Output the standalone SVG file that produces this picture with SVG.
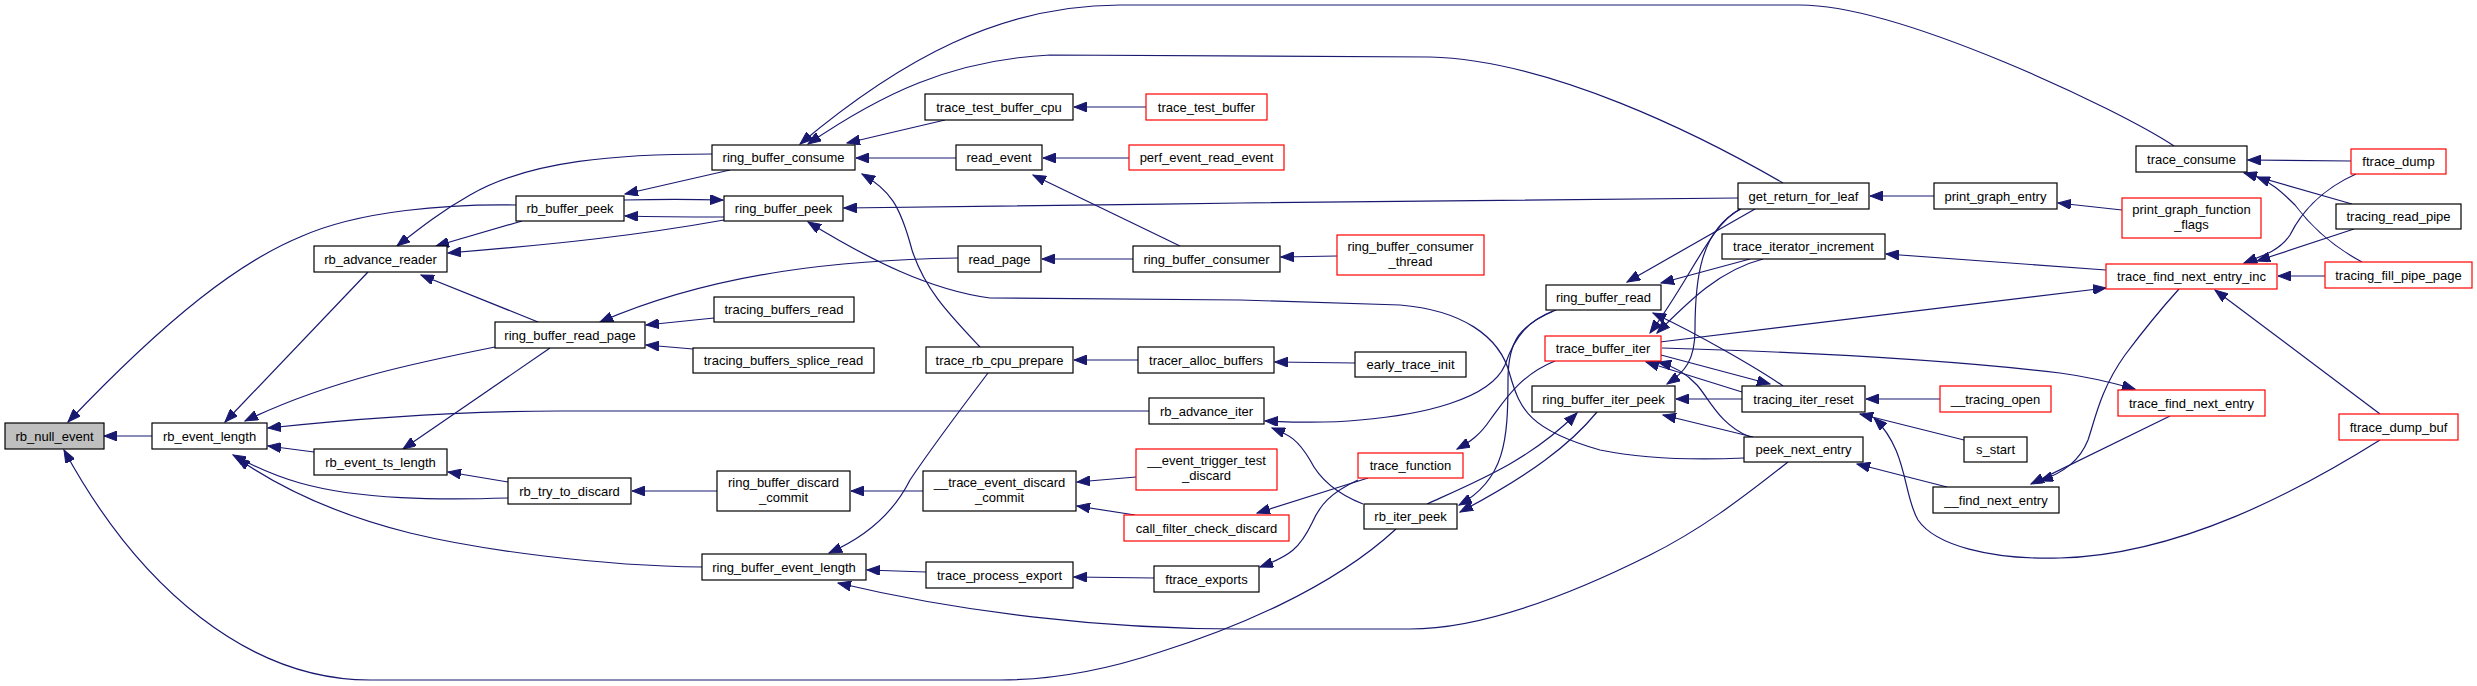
<svg xmlns="http://www.w3.org/2000/svg" width="2477" height="686" viewBox="0 0 2477 686">
<style>
.n rect{fill:#fff;stroke:#000;stroke-width:1.2}
.r rect{fill:#fff;stroke:#f00;stroke-width:1.2}
.g rect{fill:#bfbfbf;stroke:#000;stroke-width:1.2}
text{font-family:"Liberation Sans",Arial,sans-serif;font-size:13px;text-anchor:middle;fill:#000}
#edges path{fill:none;stroke:#191970;stroke-width:1.2;marker-end:url(#a)}
</style>
<defs>
<marker id="a" markerWidth="14" markerHeight="10" refX="13" refY="5" orient="auto" markerUnits="userSpaceOnUse"><path d="M0,0 L13,5 L0,10 z" fill="#191970" stroke="#191970" stroke-width="1"/></marker>
</defs>
<rect width="2477" height="686" fill="#fff"/>
<g id="edges">
<path d="M152,436 L104,436"/>
<path d="M516,205 C450,204 360,210 300,237 C240,262 170,315 68,422"/>
<path d="M1396,529 C1330,590 1230,630 1160,652 C1100,672 1050,680 1000,680 L370,680 C250,680 140,590 64,450"/>
<path d="M368,272 L225,422"/>
<path d="M495,347 C420,362 330,380 245,421"/>
<path d="M1149,411 L560,411 C480,411 380,416 268,428"/>
<path d="M314,452 L268,446"/>
<path d="M508,498 C440,500 360,500 300,483 C275,476 255,467 233,455"/>
<path d="M702,567 C600,566 480,550 410,533 C350,518 290,495 237,458"/>
<path d="M712,154 C620,154 530,160 470,195 C440,212 420,228 397,246"/>
<path d="M522,221 L436,246"/>
<path d="M724,220 C640,235 560,244 448,253"/>
<path d="M538,322 L421,275"/>
<path d="M730,170 L625,194"/>
<path d="M724,217 C700,217 660,217 625,216"/>
<path d="M624,200 C660,199 690,199 723,200"/>
<path d="M2174,146 C2120,110 1900,5 1800,5 L1120,5 C1000,5 900,60 800,144"/>
<path d="M1783,183 C1700,135 1550,60 1430,57 L1050,55 C950,60 880,95 808,144"/>
<path d="M945,120 L847,143"/>
<path d="M956,158 L856,158"/>
<path d="M980,347 C950,315 925,290 912,250 C900,205 890,190 862,174"/>
<path d="M1738,198 L1240,203 C1100,205 950,207 844,208"/>
<path d="M1744,458 C1700,460 1650,460 1600,450 C1530,430 1520,410 1510,375 C1500,335 1460,310 1400,305 L1240,300 L990,298 C930,290 870,260 808,222"/>
<path d="M958,258 C850,260 720,270 600,322"/>
<path d="M714,318 L646,325"/>
<path d="M693,349 L646,345"/>
<path d="M550,348 L403,449"/>
<path d="M508,482 L448,472"/>
<path d="M717,491 L632,491"/>
<path d="M923,491 L851,491"/>
<path d="M1136,477 L1077,482"/>
<path d="M1135,515 L1077,506"/>
<path d="M926,572 L867,570"/>
<path d="M1154,578 L1074,577"/>
<path d="M988,373 C960,410 930,450 910,480 C895,510 870,535 829,553"/>
<path d="M1788,462 C1740,500 1700,530 1650,555 C1570,595 1480,629 1410,629 L1240,629 C1100,629 960,612 838,583"/>
<path d="M1180,246 L1033,175"/>
<path d="M1133,259 L1042,259"/>
<path d="M1129,158 L1043,158"/>
<path d="M1146,107 L1074,107"/>
<path d="M1337,256 L1281,257"/>
<path d="M1138,360 L1074,360"/>
<path d="M1355,363 L1275,362"/>
<path d="M1553,311 C1530,320 1515,335 1505,365 C1490,400 1420,415 1360,420 C1320,424 1290,422 1265,421"/>
<path d="M1363,504 C1340,495 1320,480 1310,460 C1298,440 1290,435 1272,428"/>
<path d="M1556,310 C1520,325 1508,340 1508,380 C1508,440 1505,480 1459,505"/>
<path d="M1597,412 C1570,445 1530,475 1460,512"/>
<path d="M1427,504 C1480,480 1530,460 1577,413"/>
<path d="M1555,361 C1520,375 1505,400 1490,420 C1480,435 1470,442 1457,449"/>
<path d="M1368,478 L1257,513"/>
<path d="M1358,480 C1330,493 1320,505 1312,523 C1300,548 1290,556 1260,567"/>
<path d="M1755,209 L1627,282"/>
<path d="M1750,259 L1661,283"/>
<path d="M1783,386 C1760,370 1700,335 1653,313"/>
<path d="M1740,209 C1710,225 1690,280 1650,333"/>
<path d="M1763,259 C1720,270 1690,300 1657,333"/>
<path d="M1741,209 C1700,230 1695,280 1695,330 C1695,360 1685,372 1667,384"/>
<path d="M1742,399 L1676,399"/>
<path d="M1753,437 L1663,415"/>
<path d="M1750,437 C1720,425 1710,400 1697,385 C1685,372 1670,365 1658,362"/>
<path d="M1661,355 L1770,384"/>
<path d="M1742,392 L1646,362"/>
<path d="M1940,399 L1866,399"/>
<path d="M1964,440 L1860,414"/>
<path d="M2380,440 C2300,490 2180,555 2060,558 C1990,560 1935,545 1918,520 C1903,495 1908,450 1874,418"/>
<path d="M1947,487 L1857,464"/>
<path d="M2179,289 C2160,310 2140,335 2125,355 C2100,390 2095,420 2088,440 C2080,460 2065,472 2040,481"/>
<path d="M2170,416 L2031,484"/>
<path d="M1662,348 C1800,352 1950,360 2060,373 C2090,377 2110,382 2135,389"/>
<path d="M1660,342 L2106,288"/>
<path d="M2106,270 L1886,254"/>
<path d="M1934,196 L1870,196"/>
<path d="M2122,210 L2058,203"/>
<path d="M2351,161 L2248,160"/>
<path d="M2352,204 L2244,173"/>
<path d="M2362,262 C2330,245 2310,225 2295,205 C2280,190 2270,182 2257,177"/>
<path d="M2356,174 C2320,190 2300,215 2290,235 C2280,250 2265,255 2244,263"/>
<path d="M2354,229 L2257,261"/>
<path d="M2325,276 L2278,276"/>
<path d="M2380,414 L2215,290"/>
</g>
<g id="n1" class="g"><rect x="5" y="423" width="99" height="26"/><text x="54.5" y="440.5">rb_null_event</text></g>
<g id="n2" class="n"><rect x="152" y="423" width="115" height="26"/><text x="209.5" y="440.5">rb_event_length</text></g>
<g id="n3" class="n"><rect x="314" y="246" width="133" height="26"/><text x="380.5" y="263.5">rb_advance_reader</text></g>
<g id="n4" class="n"><rect x="314" y="449" width="133" height="26"/><text x="380.5" y="466.5">rb_event_ts_length</text></g>
<g id="n5" class="n"><rect x="712" y="145" width="143" height="25"/><text x="783.5" y="162">ring_buffer_consume</text></g>
<g id="n6" class="n"><rect x="516" y="196" width="108" height="25"/><text x="570" y="213">rb_buffer_peek</text></g>
<g id="n7" class="n"><rect x="724" y="196" width="119" height="25"/><text x="783.5" y="213">ring_buffer_peek</text></g>
<g id="n8" class="n"><rect x="495" y="322" width="150" height="26"/><text x="570" y="339.5">ring_buffer_read_page</text></g>
<g id="n9" class="n"><rect x="714" y="297" width="140" height="25"/><text x="784" y="314">tracing_buffers_read</text></g>
<g id="n10" class="n"><rect x="693" y="348" width="181" height="25"/><text x="783.5" y="365">tracing_buffers_splice_read</text></g>
<g id="n11" class="n"><rect x="508" y="478" width="123" height="26"/><text x="569.5" y="495.5">rb_try_to_discard</text></g>
<g id="n12" class="n"><rect x="717" y="471" width="133" height="40"/><text x="783.5" y="486.5">ring_buffer_discard</text><text x="783.5" y="501.5">_commit</text></g>
<g id="n13" class="n"><rect x="702" y="554" width="164" height="26"/><text x="784" y="571.5">ring_buffer_event_length</text></g>
<g id="n14" class="n"><rect x="925" y="94" width="148" height="26"/><text x="999" y="111.5">trace_test_buffer_cpu</text></g>
<g id="n15" class="r"><rect x="1146" y="94" width="121" height="26"/><text x="1206.5" y="111.5">trace_test_buffer</text></g>
<g id="n16" class="n"><rect x="956" y="145" width="86" height="25"/><text x="999" y="162">read_event</text></g>
<g id="n17" class="r"><rect x="1129" y="145" width="155" height="25"/><text x="1206.5" y="162">perf_event_read_event</text></g>
<g id="n18" class="n"><rect x="958" y="246" width="83" height="26"/><text x="999.5" y="263.5">read_page</text></g>
<g id="n19" class="n"><rect x="1133" y="246" width="147" height="26"/><text x="1206.5" y="263.5">ring_buffer_consumer</text></g>
<g id="n20" class="r"><rect x="1337" y="235" width="147" height="40"/><text x="1410.5" y="250.5">ring_buffer_consumer</text><text x="1410.5" y="265.5">_thread</text></g>
<g id="n21" class="n"><rect x="926" y="347" width="147" height="26"/><text x="999.5" y="364.5">trace_rb_cpu_prepare</text></g>
<g id="n22" class="n"><rect x="1138" y="347" width="136" height="26"/><text x="1206" y="364.5">tracer_alloc_buffers</text></g>
<g id="n23" class="n"><rect x="1355" y="352" width="111" height="25"/><text x="1410.5" y="369">early_trace_init</text></g>
<g id="n24" class="n"><rect x="1149" y="398" width="115" height="26"/><text x="1206.5" y="415.5">rb_advance_iter</text></g>
<g id="n25" class="n"><rect x="923" y="471" width="153" height="40"/><text x="999.5" y="486.5">__trace_event_discard</text><text x="999.5" y="501.5">_commit</text></g>
<g id="n26" class="r"><rect x="1136" y="449" width="141" height="41"/><text x="1206.5" y="464.5">__event_trigger_test</text><text x="1206.5" y="479.5">_discard</text></g>
<g id="n27" class="r"><rect x="1124" y="515" width="165" height="26"/><text x="1206.5" y="532.5">call_filter_check_discard</text></g>
<g id="n28" class="n"><rect x="926" y="562" width="147" height="26"/><text x="999.5" y="579.5">trace_process_export</text></g>
<g id="n29" class="n"><rect x="1154" y="566" width="105" height="26"/><text x="1206.5" y="583.5">ftrace_exports</text></g>
<g id="n30" class="r"><rect x="1358" y="453" width="105" height="25"/><text x="1410.5" y="470">trace_function</text></g>
<g id="n31" class="n"><rect x="1364" y="504" width="93" height="25"/><text x="1410.5" y="521">rb_iter_peek</text></g>
<g id="n32" class="n"><rect x="1546" y="285" width="115" height="25"/><text x="1603.5" y="302">ring_buffer_read</text></g>
<g id="n33" class="r"><rect x="1545" y="336" width="116" height="25"/><text x="1603" y="353">trace_buffer_iter</text></g>
<g id="n34" class="n"><rect x="1532" y="386" width="143" height="26"/><text x="1603.5" y="403.5">ring_buffer_iter_peek</text></g>
<g id="n35" class="n"><rect x="1738" y="183" width="131" height="26"/><text x="1803.5" y="200.5">get_return_for_leaf</text></g>
<g id="n36" class="n"><rect x="1934" y="183" width="123" height="26"/><text x="1995.5" y="200.5">print_graph_entry</text></g>
<g id="n37" class="n"><rect x="1722" y="234" width="163" height="25"/><text x="1803.5" y="251">trace_iterator_increment</text></g>
<g id="n38" class="n"><rect x="1742" y="386" width="123" height="26"/><text x="1803.5" y="403.5">tracing_iter_reset</text></g>
<g id="n39" class="r"><rect x="1940" y="386" width="111" height="26"/><text x="1995.5" y="403.5">__tracing_open</text></g>
<g id="n40" class="n"><rect x="1744" y="437" width="119" height="25"/><text x="1803.5" y="454">peek_next_entry</text></g>
<g id="n41" class="n"><rect x="1964" y="437" width="63" height="25"/><text x="1995.5" y="454">s_start</text></g>
<g id="n42" class="n"><rect x="1933" y="487" width="126" height="26"/><text x="1996" y="504.5">__find_next_entry</text></g>
<g id="n43" class="n"><rect x="2136" y="146" width="111" height="26"/><text x="2191.5" y="163.5">trace_consume</text></g>
<g id="n44" class="r"><rect x="2351" y="149" width="95" height="25"/><text x="2398.5" y="166">ftrace_dump</text></g>
<g id="n45" class="r"><rect x="2122" y="198" width="139" height="40"/><text x="2191.5" y="213.5">print_graph_function</text><text x="2191.5" y="228.5">_flags</text></g>
<g id="n46" class="n"><rect x="2336" y="204" width="125" height="25"/><text x="2398.5" y="221">tracing_read_pipe</text></g>
<g id="n47" class="r"><rect x="2106" y="264" width="171" height="25"/><text x="2191.5" y="281">trace_find_next_entry_inc</text></g>
<g id="n48" class="r"><rect x="2325" y="262" width="147" height="26"/><text x="2398.5" y="279.5">tracing_fill_pipe_page</text></g>
<g id="n49" class="r"><rect x="2118" y="390" width="147" height="26"/><text x="2191.5" y="407.5">trace_find_next_entry</text></g>
<g id="n50" class="r"><rect x="2339" y="414" width="119" height="26"/><text x="2398.5" y="431.5">ftrace_dump_buf</text></g>
</svg>
